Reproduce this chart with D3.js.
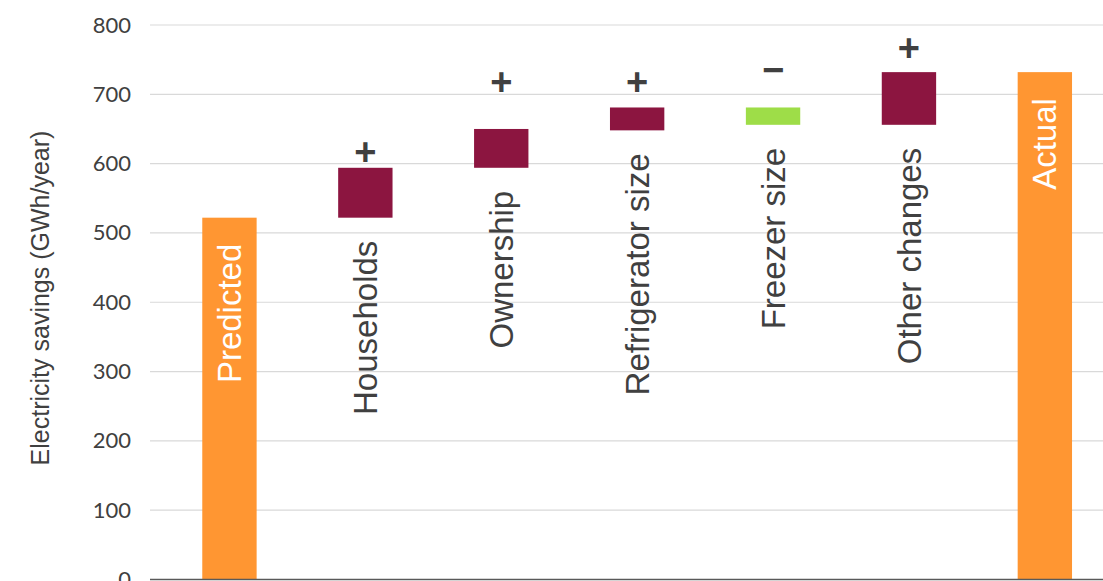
<!DOCTYPE html>
<html>
<head>
<meta charset="utf-8">
<script src="https://cdn.jsdelivr.net/npm/d3@7"></script>
<style>
  body { margin: 0; background: #fff; }
  svg { display: block; font-family: "Liberation Sans", Arial, sans-serif; }
</style>
</head>
<body>
<div id="chart"></div>
<script>
// Waterfall data
const categories = ["Predicted", "Households", "Ownership", "Refrigerator size", "Freezer size", "Other changes", "Actual"];
const barStart = [0, 522, 594, 648, 681, 656, 0];
const barEnd = [522, 594, 650, 681, 656, 732, 732];
const barKind = ["total", "up", "up", "up", "down", "up", "total"];
const signs = ["", "+", "+", "+", "\u2212", "+", ""];
const signAt = [0, 617, 718, 718, 735, 767, 0];
const yTicks = [0, 100, 200, 300, 400, 500, 600, 700, 800];

const width = 1103, height = 581;
const colors = { total: "#ff9632", up: "#8c1540", down: "#9edd48" };

const svg = d3.select("#chart").append("svg")
  .attr("width", width)
  .attr("height", height);

const x = d3.scaleBand()
  .domain(categories)
  .range([161.5, 1112.8])
  .paddingInner(0.6)
  .paddingOuter(0.3);

const y = d3.scaleLinear()
  .domain([0, 800])
  .range([579.5, 25]);

// gridlines
svg.append("g")
  .selectAll("line")
  .data(yTicks.filter(d => d > 0))
  .enter()
  .append("line")
  .attr("x1", 150)
  .attr("x2", width)
  .attr("y1", d => y(d))
  .attr("y2", d => y(d))
  .attr("stroke", "#d9d9d9")
  .attr("stroke-width", 1.2);

// y axis labels
const yAxis = svg.append("g")
  .attr("transform", "translate(150,0)")
  .call(d3.axisLeft(y).tickValues(yTicks).tickSize(0).tickPadding(19));
yAxis.select(".domain").remove();
yAxis.selectAll("text")
  .attr("fill", "#404040")
  .style("font-family", "Lato, 'Liberation Sans', sans-serif")
  .style("font-size", "22px");

// bars
const data = categories.map((c, i) => ({
  cat: c, start: barStart[i], end: barEnd[i], kind: barKind[i], sign: signs[i], signAt: signAt[i]
}));

svg.append("g")
  .selectAll("rect")
  .data(data)
  .enter()
  .append("rect")
  .attr("x", d => x(d.cat))
  .attr("width", x.bandwidth())
  .attr("y", d => y(Math.max(d.start, d.end)))
  .attr("height", d => Math.abs(y(d.start) - y(d.end)))
  .attr("fill", d => colors[d.kind]);

// x axis line
svg.append("line")
  .attr("x1", 150)
  .attr("x2", width)
  .attr("y1", y(0))
  .attr("y2", y(0))
  .attr("stroke", "#595959")
  .attr("stroke-width", 1.5);

// category labels, rotated
svg.append("g")
  .selectAll("text")
  .data(data)
  .enter()
  .append("text")
  .attr("transform", d => {
    const cx = x(d.cat) + x.bandwidth() / 2;
    const ty = d.kind === "total"
      ? y(d.end) + 26
      : y(Math.min(d.start, d.end)) + 23;
    return `translate(${cx},${ty}) rotate(-90)`;
  })
  .attr("text-anchor", "end")
  .attr("dy", "0.35em")
  .attr("fill", d => d.kind === "total" ? "#ffffff" : "#404040")
  .style("font-size", "33px")
  .text(d => d.cat);

// +/- signs
svg.append("g")
  .selectAll("text")
  .data(data.filter(d => d.sign))
  .enter()
  .append("text")
  .attr("x", d => x(d.cat) + x.bandwidth() / 2)
  .attr("y", d => y(d.signAt))
  .attr("dy", "0.35em")
  .attr("text-anchor", "middle")
  .attr("fill", "#404040")
  .style("font-size", "38px")
  .style("font-weight", "bold")
  .text(d => d.sign);

// y axis title
svg.append("text")
  .attr("transform", "translate(40,298) rotate(-90)")
  .attr("text-anchor", "middle")
  .attr("dy", "0.35em")
  .attr("fill", "#404040")
  .style("font-size", "25px")
  .text("Electricity savings (GWh/year)");
</script>
</body>
</html>
